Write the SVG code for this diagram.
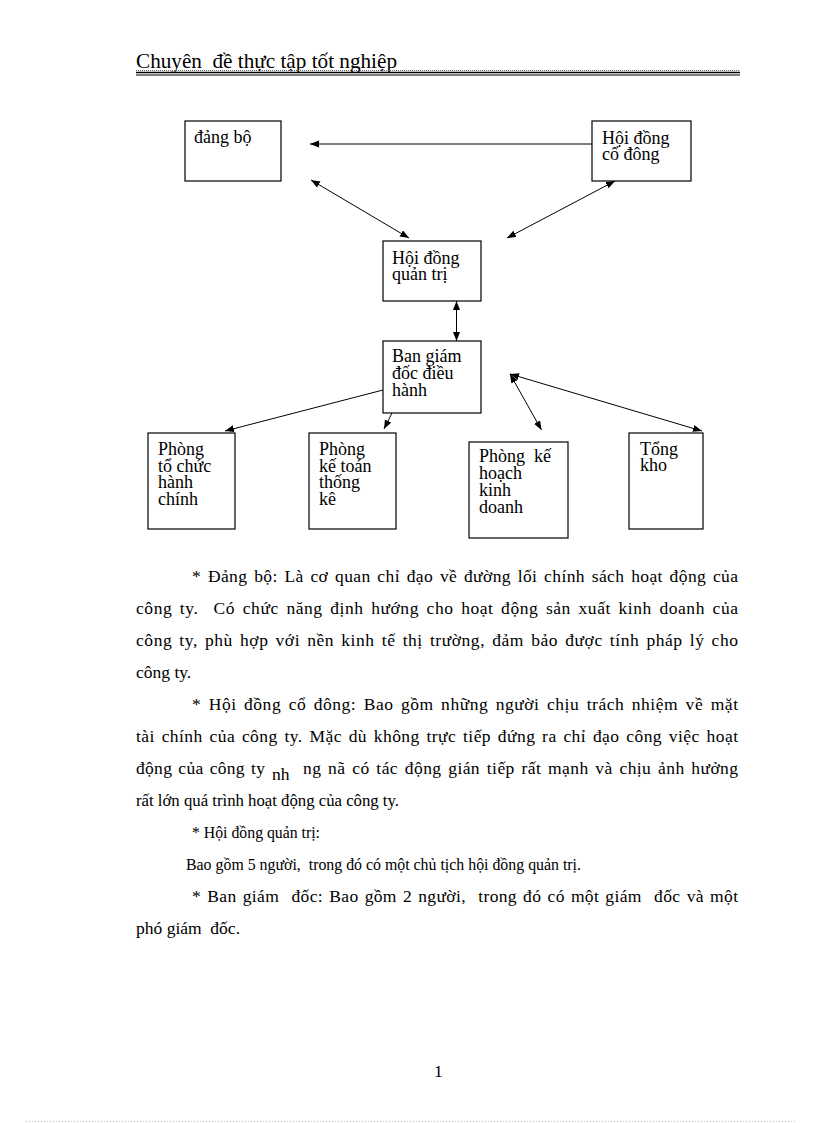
<svg xmlns="http://www.w3.org/2000/svg" width="816" height="1123" viewBox="0 0 816 1123">
<style>
text{white-space:pre}
.box{fill:#fff;stroke:#000;stroke-width:1.2}
.bt{font-family:"Liberation Serif","Times New Roman",serif;font-size:18px;fill:#000}
.body{font-family:"Liberation Serif","Times New Roman",serif;font-size:17.5px;fill:#000}
.nat{font-size:16.8px}
.con{stroke:#000;stroke-width:1;fill:none}
</style>
<defs>
<marker id="ah" markerUnits="userSpaceOnUse" markerWidth="10" markerHeight="8" refX="9" refY="3.5" orient="auto-start-reverse">
<path d="M0,0 L9,3.5 L0,7 z" fill="#000"/>
</marker>
</defs>
<rect width="816" height="1123" fill="#fff"/>
<g id="header">
<text xml:space="preserve" x="136" y="68" font-family="Liberation Serif, Times New Roman, serif" font-size="21" textLength="261" lengthAdjust="spacingAndGlyphs">Chuyên  đề thực tập tốt nghiệp</text>
<line x1="136" y1="70.5" x2="740" y2="70.5" stroke="#666" stroke-width="1" stroke-dasharray="1 1"/>
<line x1="136" y1="72.5" x2="740" y2="72.5" stroke="#000" stroke-width="1.5"/>
<line x1="136" y1="75" x2="740" y2="75" stroke="#000" stroke-width="1"/>
</g>
<g id="connectors">
<line class="con" x1="592" y1="144" x2="310" y2="144" marker-end="url(#ah)"/>
<line class="con" x1="311" y1="180" x2="409" y2="238" marker-start="url(#ah)" marker-end="url(#ah)"/>
<line class="con" x1="615" y1="181" x2="507" y2="238" marker-start="url(#ah)" marker-end="url(#ah)"/>
<line class="con" x1="456.5" y1="301" x2="456.5" y2="341" marker-start="url(#ah)" marker-end="url(#ah)"/>
<line class="con" x1="383" y1="390" x2="225" y2="431" marker-end="url(#ah)"/>
<line class="con" x1="392" y1="413" x2="384" y2="429" marker-end="url(#ah)"/>
<line class="con" x1="510" y1="374" x2="541.5" y2="430" marker-start="url(#ah)" marker-end="url(#ah)"/>
<line class="con" x1="510" y1="374" x2="702" y2="431" marker-start="url(#ah)" marker-end="url(#ah)"/>
</g>
<g id="dang-bo">
<rect class="box" x="185" y="121" width="96" height="60"/>
<text class="bt" x="194" y="143">đảng bộ</text>
</g>
<g id="hoi-dong-co-dong">
<rect class="box" x="592" y="121" width="99" height="60"/>
<text class="bt" x="602" y="144">Hội đồng</text>
<text class="bt" x="602" y="160">cổ đông</text>
</g>
<g id="hoi-dong-quan-tri">
<rect class="box" x="383" y="241" width="98" height="60"/>
<text class="bt" x="392" y="264">Hội đồng</text>
<text class="bt" x="392" y="280">quản trị</text>
</g>
<g id="ban-giam-doc">
<rect class="box" x="383" y="341" width="98" height="72"/>
<text class="bt" x="392" y="362">Ban giám</text>
<text class="bt" x="392" y="379">đốc điều</text>
<text class="bt" x="392" y="396">hành</text>
</g>
<g id="phong-to-chuc">
<rect class="box" x="148" y="433" width="87" height="96"/>
<text class="bt" x="158" y="455">Phòng</text>
<text class="bt" x="158" y="472">tổ chức</text>
<text class="bt" x="158" y="488">hành</text>
<text class="bt" x="158" y="505">chính</text>
</g>
<g id="phong-ke-toan">
<rect class="box" x="309" y="433" width="87" height="96"/>
<text class="bt" x="319" y="455">Phòng</text>
<text class="bt" x="319" y="472">kế toán</text>
<text class="bt" x="319" y="488">thống</text>
<text class="bt" x="319" y="505">kê</text>
</g>
<g id="phong-ke-hoach">
<rect class="box" x="469" y="442" width="99" height="96"/>
<text class="bt" xml:space="preserve" x="479" y="462">Phòng  kế</text>
<text class="bt" x="479" y="479">hoạch</text>
<text class="bt" x="479" y="496">kinh</text>
<text class="bt" x="479" y="513">doanh</text>
</g>
<g id="tong-kho">
<rect class="box" x="629" y="433" width="74" height="96"/>
<text class="bt" x="640" y="455">Tổng</text>
<text class="bt" x="640" y="471">kho</text>
</g>
<g id="body-text">
<text class="body" x="192" y="582" word-spacing="2" textLength="546" lengthAdjust="spacing">* Đảng bộ: Là cơ quan chỉ đạo về đường lối chính sách hoạt động của</text>
<text class="body" xml:space="preserve" x="136" y="614" word-spacing="2.7" textLength="602" lengthAdjust="spacing">công ty.  Có chức năng định hướng cho hoạt động sản xuất kinh doanh của</text>
<text class="body" x="136" y="646" word-spacing="2.2" textLength="602" lengthAdjust="spacing">công ty, phù hợp với nền kinh tế thị trường, đảm bảo được tính pháp lý cho</text>
<text class="body" x="136" y="678">công ty.</text>
<text class="body" x="192" y="710" word-spacing="2.6" textLength="546" lengthAdjust="spacing">* Hội đồng cổ đông: Bao gồm những người chịu trách nhiệm về mặt</text>
<text class="body" x="136" y="742" word-spacing="2" textLength="602" lengthAdjust="spacing">tài chính của công ty. Mặc dù không trực tiếp đứng ra chỉ đạo công việc hoạt</text>
<text class="body" x="136" y="774" word-spacing="1.5" textLength="129" lengthAdjust="spacing">động của công ty</text>
<text class="body" x="272" y="780">nh</text>
<text class="body" x="303" y="774" word-spacing="2" textLength="435" lengthAdjust="spacing">ng nã có tác động gián tiếp rất mạnh và chịu ảnh hưởng</text>
<text class="body nat" x="136" y="806" textLength="263" lengthAdjust="spacingAndGlyphs">rất lớn quá trình hoạt động của công ty.</text>
<text class="body nat" x="192" y="838" textLength="128" lengthAdjust="spacingAndGlyphs">* Hội đồng quản trị:</text>
<text class="body nat" xml:space="preserve" x="186" y="870" textLength="395" lengthAdjust="spacingAndGlyphs">Bao gồm 5 người,  trong đó có một chủ tịch hội đồng quản trị.</text>
<text class="body" xml:space="preserve" x="192" y="902" word-spacing="1.4" textLength="546" lengthAdjust="spacing">* Ban giám  đốc: Bao gồm 2 người,  trong đó có một giám  đốc và một</text>
<text class="body" xml:space="preserve" x="136" y="934">phó giám  đốc.</text>
</g>
<g id="footer">
<text class="body" x="434" y="1077">1</text>
<line x1="26" y1="1121.5" x2="796" y2="1121.5" stroke="#bbb" stroke-width="1" stroke-dasharray="1 2"/>
</g>
</svg>
